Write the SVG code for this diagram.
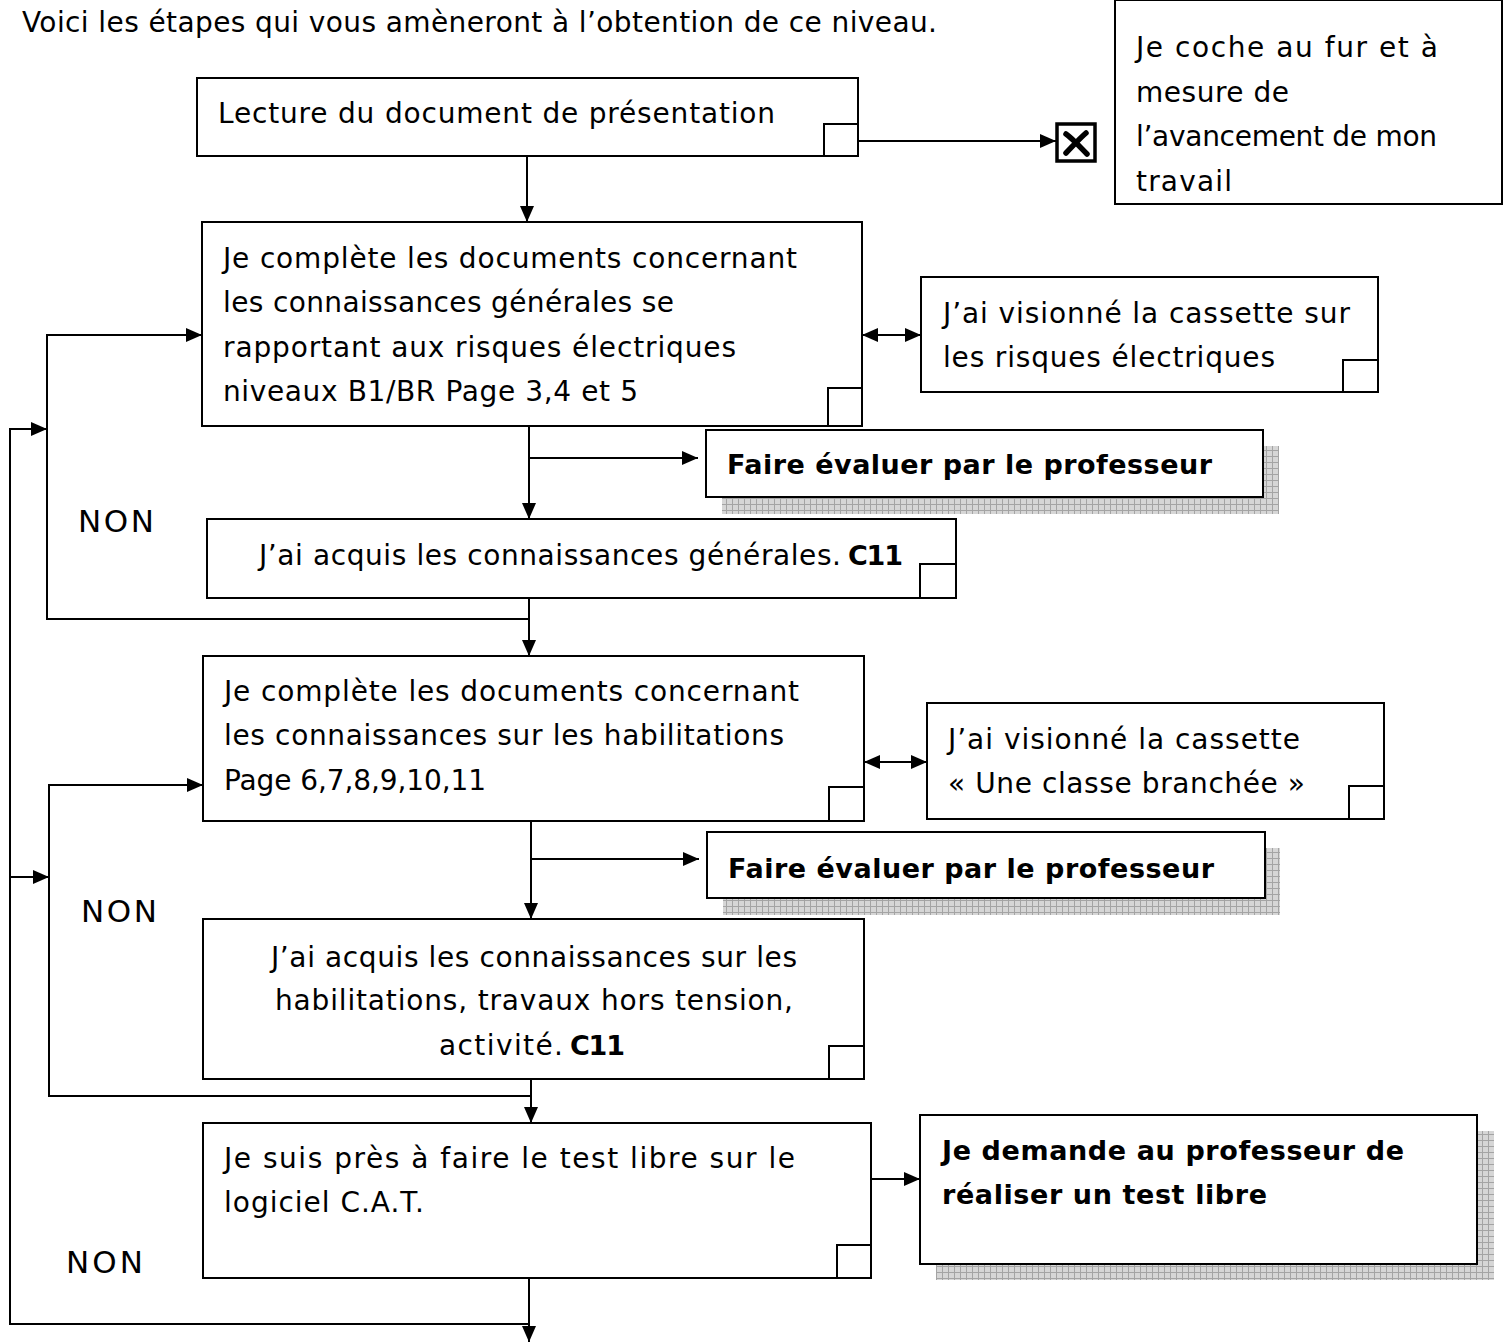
<svg xmlns="http://www.w3.org/2000/svg" width="1509" height="1342" viewBox="0 0 1509 1342">
<defs>
<style>
.t{font-family:"DejaVu Sans","Liberation Sans",sans-serif;font-size:28px;fill:#000}
.n{font-family:"DejaVu Sans","Liberation Sans",sans-serif;font-size:31px;fill:#000}
.b{font-family:"DejaVu Sans","Liberation Sans",sans-serif;font-size:27px;font-weight:bold;fill:#000}
.box{fill:#fff;stroke:#000;stroke-width:2}
.chk{fill:#fff;stroke:#000;stroke-width:2}
.sh{fill:url(#hatch);stroke:none}
.ln{fill:none;stroke:#000;stroke-width:2}
.ar{fill:none;stroke:#000;stroke-width:2;marker-end:url(#ah)}
.da{fill:none;stroke:#000;stroke-width:2;marker-start:url(#ah);marker-end:url(#ah)}
</style>
<marker id="ah" markerUnits="userSpaceOnUse" markerWidth="16" markerHeight="14" viewBox="0 0 16 14" refX="16" refY="7" orient="auto-start-reverse">
<path d="M0,0 L16,7 L0,14 Z" fill="#000"/>
</marker>
<pattern id="hatch" patternUnits="userSpaceOnUse" width="6" height="6">
<rect width="6" height="6" fill="#d6d6d6"/>
<path d="M0,0.5 H6 M0.5,0 V6" stroke="#a4a4a4" stroke-width="1"/>
</pattern>
</defs>
<rect width="1509" height="1342" fill="#fff"/>

<text class="t" x="22" y="32" textLength="915">Voici les étapes qui vous amèneront à l’obtention de ce niveau.</text>

<g id="connectors">
<line class="ar" x1="527" y1="156" x2="527" y2="222"/>
<line class="ar" x1="858" y1="141" x2="1056" y2="141"/>
<line class="da" x1="862" y1="335" x2="921" y2="335"/>
<line class="ar" x1="529" y1="426" x2="529" y2="519"/>
<line class="ar" x1="529" y1="458" x2="698" y2="458"/>
<line class="ar" x1="529" y1="598" x2="529" y2="656"/>
<polyline class="ar" points="529,619 47,619 47,335 202,335"/>
<polyline class="ar" points="529,1324 10,1324 10,429 47,429"/>
<line class="ar" x1="10" y1="877" x2="49" y2="877"/>
<polyline class="ar" points="531,1096 49,1096 49,785 203,785"/>
<line class="da" x1="864" y1="762" x2="927" y2="762"/>
<line class="ar" x1="531" y1="821" x2="531" y2="919"/>
<line class="ar" x1="531" y1="859" x2="699" y2="859"/>
<line class="ar" x1="531" y1="1079" x2="531" y2="1123"/>
<line class="ar" x1="866" y1="1179" x2="920" y2="1179"/>
<line class="ar" x1="529" y1="1278" x2="529" y2="1342"/>
</g>

<g id="n-lecture">
<rect class="box" x="197" y="78" width="661" height="78"/>
<rect class="chk" x="824" y="124" width="34" height="32"/>
<text class="t" x="218" y="123" textLength="557">Lecture du document de présentation</text>
</g>

<g id="n-xbox">
<rect x="1057" y="124" width="38" height="37" fill="#fff" stroke="#000" stroke-width="3.5"/>
<path d="M1066,134 C1073,139 1080,147 1087,154 M1086,133 C1079,139 1072,147 1066,153" fill="none" stroke="#000" stroke-width="5.5" stroke-linecap="round"/>
</g>

<g id="n-coche">
<rect class="box" x="1115" y="0" width="387" height="204"/>
<text class="t" x="1136" y="57" textLength="302">Je coche au fur et à</text>
<text class="t" x="1136" y="102" textLength="153">mesure de</text>
<text class="t" x="1136" y="146" textLength="301">l’avancement de mon</text>
<text class="t" x="1136" y="191" textLength="96">travail</text>
</g>

<g id="n-complete1">
<rect class="box" x="202" y="222" width="660" height="204"/>
<rect class="chk" x="828" y="388" width="34" height="38"/>
<text class="t" x="223" y="268" textLength="574">Je complète les documents concernant</text>
<text class="t" x="223" y="312" textLength="451">les connaissances générales se</text>
<text class="t" x="223" y="357" textLength="513">rapportant aux risques électriques</text>
<text class="t" x="223" y="401" textLength="415">niveaux B1/BR Page 3,4 et 5</text>
</g>

<g id="n-cassette1">
<rect class="box" x="921" y="277" width="457" height="115"/>
<rect class="chk" x="1343" y="360" width="35" height="32"/>
<text class="t" x="943" y="323" textLength="407">J’ai visionné la cassette sur</text>
<text class="t" x="943" y="367" textLength="332">les risques électriques</text>
</g>

<g id="n-faire1">
<rect class="sh" x="722" y="446" width="557" height="68"/>
<rect class="box" x="706" y="430" width="557" height="67"/>
<text class="b" x="727" y="474" textLength="485">Faire évaluer par le professeur</text>
</g>

<g id="n-acquis1">
<rect class="box" x="207" y="519" width="749" height="79"/>
<rect class="chk" x="920" y="564" width="36" height="34"/>
<text class="t" x="259" y="565" textLength="582">J’ai acquis les connaissances générales.</text>
<text class="b" x="848" y="565" textLength="55">C11</text>
</g>

<g id="non1"><text class="n" x="78" y="532" textLength="76">NON</text></g>

<g id="n-complete2">
<rect class="box" x="203" y="656" width="661" height="165"/>
<rect class="chk" x="829" y="787" width="35" height="34"/>
<text class="t" x="224" y="701" textLength="575">Je complète les documents concernant</text>
<text class="t" x="224" y="745" textLength="560">les connaissances sur les habilitations</text>
<text class="t" x="224" y="790" textLength="262">Page 6,7,8,9,10,11</text>
</g>

<g id="n-cassette2">
<rect class="box" x="927" y="703" width="457" height="116"/>
<rect class="chk" x="1349" y="786" width="35" height="33"/>
<text class="t" x="948" y="749" textLength="352">J’ai visionné la cassette</text>
<text class="t" x="948" y="793" textLength="357">« Une classe branchée »</text>
</g>

<g id="n-faire2">
<rect class="sh" x="723" y="848" width="557" height="67"/>
<rect class="box" x="707" y="832" width="558" height="66"/>
<text class="b" x="728" y="878" textLength="486">Faire évaluer par le professeur</text>
</g>

<g id="non2"><text class="n" x="81" y="922" textLength="76">NON</text></g>

<g id="n-acquis2">
<rect class="box" x="203" y="919" width="661" height="160"/>
<rect class="chk" x="829" y="1046" width="35" height="33"/>
<text class="t" x="271" y="967" textLength="526">J’ai acquis les connaissances sur les</text>
<text class="t" x="275" y="1010" textLength="518">habilitations, travaux hors tension,</text>
<text class="t" x="439" y="1055" textLength="124">activité.</text>
<text class="b" x="570" y="1055" textLength="55">C11</text>
</g>

<g id="n-test">
<rect class="box" x="203" y="1123" width="668" height="155"/>
<rect class="chk" x="837" y="1245" width="34" height="33"/>
<text class="t" x="224" y="1168" textLength="571">Je suis près à faire le test libre sur le</text>
<text class="t" x="224" y="1212" textLength="200">logiciel C.A.T.</text>
</g>

<g id="n-demande">
<rect class="sh" x="936" y="1131" width="558" height="149"/>
<rect class="box" x="920" y="1115" width="557" height="149"/>
<text class="b" x="942" y="1160" textLength="462">Je demande au professeur de</text>
<text class="b" x="942" y="1204" textLength="325">réaliser un test libre</text>
</g>

<g id="non3"><text class="n" x="66" y="1273" textLength="77">NON</text></g>
</svg>
